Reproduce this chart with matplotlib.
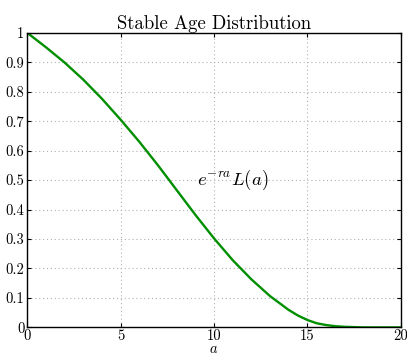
import numpy as np
import matplotlib
matplotlib.use('Agg')
from matplotlib import pyplot as plt

# values
age = [0, 1, 2, 3, 4, 5, 6, 7, 8, 9, 10, 11, 12, 13, 14, 14.5, 15, 15.5,
       16, 16.5, 17, 18, 19, 20]
dist = [1.0, 0.951, 0.899, 0.841, 0.776, 0.705, 0.63, 0.55, 0.466, 0.382, 0.302,
        0.228, 0.163, 0.106, 0.059, 0.040, 0.025, 0.014,
        0.008, 0.004, 0.002, 0.0, 0.0, 0.0]
xticks = [0, 5, 10, 15, 20]
yticks = [0, 0.1, 0.2, 0.3, 0.4, 0.5, 0.6, 0.7, 0.8, 0.9, 1]

plt.rcParams['font.family'] = 'cmr10'
plt.rcParams['mathtext.fontset'] = 'cm'
plt.rcParams['axes.formatter.use_mathtext'] = True

fig = plt.figure(figsize=(4.07, 3.53), dpi=100)
ax = fig.add_axes([0.067, 0.0725, 0.918, 0.8345])

ax.plot(age, dist, color=(0, 0.56, 0), lw=1.7, solid_joinstyle='round')

ax.set_xlim(0, 20)
ax.set_ylim(0, 1)
ax.set_xticks(xticks)
ax.set_yticks(yticks)
ax.set_xticklabels([str(t) for t in xticks])
ax.set_yticklabels(['0' if t == 0 else ('1' if t == 1 else '%g' % t) for t in yticks])
ax.tick_params(direction='in', top=True, right=True, labelsize=10.5, length=3, pad=2)
ax.tick_params(axis='x', pad=1)
ax.grid(True, linestyle=(0, (1, 2.5)), color='#b0b0b0', lw=0.8)
for s in ax.spines.values():
    s.set_linewidth(1.0)

ax.set_title('Stable Age Distribution', fontsize=13.5, pad=3)
ax.set_xlabel('$a$', fontsize=10.5, labelpad=0)
ax.text(9.08, 0.5, r'$e^{-ra}L(a)$', fontsize=13.5, va='center', ha='left')

fig.savefig('out.png', dpi=100)
